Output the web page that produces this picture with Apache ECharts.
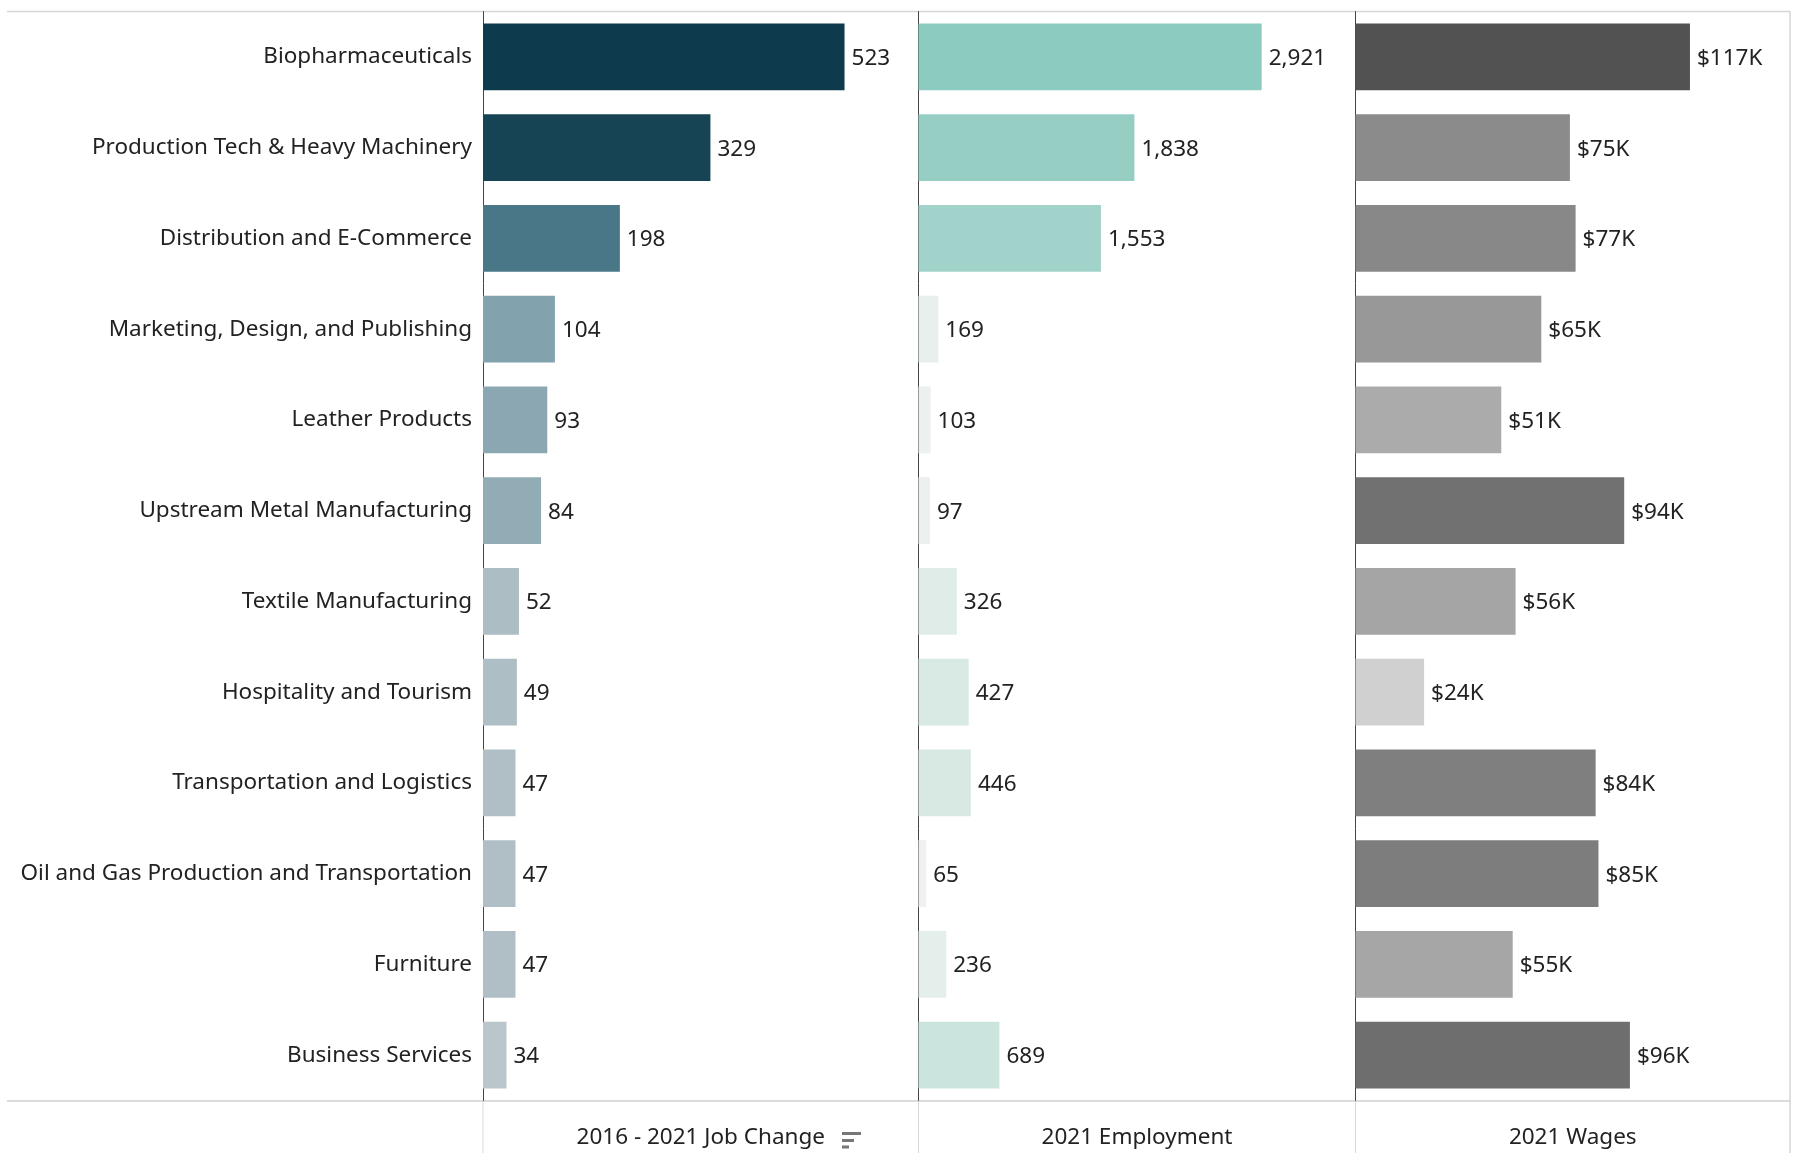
<!DOCTYPE html>
<html>
<head>
<meta charset="utf-8">
<script src="https://cdn.jsdelivr.net/npm/echarts@6/dist/echarts.min.js"></script>
<style>
  html, body { margin: 0; padding: 0; background: #fff; }
  #chart { width: 1812px; height: 1153px; }
</style>
</head>
<body>
<div id="chart"></div>
<script>
const categories = [
  'Biopharmaceuticals',
  'Production Tech & Heavy Machinery',
  'Distribution and E-Commerce',
  'Marketing, Design, and Publishing',
  'Leather Products',
  'Upstream Metal Manufacturing',
  'Textile Manufacturing',
  'Hospitality and Tourism',
  'Transportation and Logistics',
  'Oil and Gas Production and Transportation',
  'Furniture',
  'Business Services'
];
const jobChange = [523, 329, 198, 104, 93, 84, 52, 49, 47, 47, 47, 34];
const employment = [2921, 1838, 1553, 169, 103, 97, 326, 427, 446, 65, 236, 689];
const wages = [117, 75, 77, 65, 51, 94, 56, 24, 84, 85, 55, 96];
const columnTitles = ['2016 - 2021 Job Change', '2021 Employment', '2021 Wages'];

const FONT = 'Noto Sans';
const TEXT = '#222';
const FONT_SIZE = 22.5;

// panel geometry
const TOP = 11.5;
const BOTTOM = 52.5;
const lefts = [483, 918.5, 1355.5];
const widths = [435.5, 437, 434.5];
const maxes = [630, 3720, 152];

const formatters = [
  v => String(v),
  v => v.toLocaleString('en-US'),
  v => '$' + v + 'K'
];
const seriesData = [jobChange, employment, wages];

const chart = echarts.init(document.getElementById('chart'));

const grids = lefts.map((l, i) => ({
  left: l, width: widths[i], top: TOP, bottom: BOTTOM, outerBoundsMode: 'none'
}));

const xAxes = maxes.map((m, i) => ({
  type: 'value', gridIndex: i, min: 0, max: m,
  axisLine: { show: false }, axisTick: { show: false },
  axisLabel: { show: false }, splitLine: { show: false },
  name: columnTitles[i], nameLocation: 'middle', nameGap: 37.5,
  nameTextStyle: { fontFamily: FONT, fontSize: FONT_SIZE, color: TEXT, verticalAlign: 'middle' }
}));

const yAxes = [0, 1, 2].map(i => ({
  type: 'category', gridIndex: i, data: categories, inverse: true,
  axisLine: { show: true, lineStyle: { color: '#444', width: 1 } },
  axisTick: { show: false },
  axisLabel: {
    show: i === 0, margin: 11, fontFamily: FONT, fontSize: FONT_SIZE, color: TEXT,
    padding: [3, 0, 0, 0]
  },
  splitLine: { show: false }
}));

const series = seriesData.map((d, i) => ({
  type: 'bar', xAxisIndex: i, yAxisIndex: i, data: d,
  barWidth: '73.8%',
  label: {
    show: true, position: 'right', distance: 7, offset: [0, 1.5],
    fontFamily: FONT, fontSize: FONT_SIZE, color: TEXT,
    formatter: p => formatters[i](p.value)
  },
  emphasis: { disabled: true }
}));

const visualMaps = [
  { seriesIndex: 0, dimension: 0, min: 34, max: 524, show: false,
    inRange: { color: ['#bac6cc', '#82a2ad', '#558192', '#346375', '#184656', '#113e4e', '#0f3c4e', '#0e3a4d'] } },
  { seriesIndex: 1, dimension: 0, min: 65, max: 2921, show: false,
    inRange: { color: ['#eef1f0', '#d9eae5', '#c7e2dc', '#b5dbd3', '#a4d4cb', '#96cec4', '#92cdc2', '#8fccc1', '#8ccbbf'] } },
  { seriesIndex: 2, dimension: 0, min: 24, max: 117, show: false,
    inRange: { color: ['#d0d0d0', '#525252'] } }
];

const lineStyle = { stroke: '#d6d6d6', lineWidth: 1.5 };
const graphics = [
  { type: 'line', shape: { x1: 7, y1: 11.5, x2: 1790, y2: 11.5 }, style: lineStyle, silent: true },
  { type: 'line', shape: { x1: 1790, y1: 11.5, x2: 1790, y2: 1153 }, style: lineStyle, silent: true },
  { type: 'line', shape: { x1: 7, y1: 1101, x2: 1790, y2: 1101 }, style: { stroke: '#cfcfcf', lineWidth: 1.5 }, silent: true }
];
lefts.forEach(l => {
  graphics.push({ type: 'line', shape: { x1: l, y1: 1101, x2: l, y2: 1153 }, style: { stroke: '#d8d8d8', lineWidth: 1 }, silent: true });
});
// sort indicator next to the first column title
[[19, 1132], [12, 1139], [7, 1145.5]].forEach(([w, y]) => {
  graphics.push({ type: 'rect', shape: { x: 842, y: y, width: w, height: 3 }, style: { fill: '#777' }, silent: true });
});

chart.setOption({
  animation: false,
  backgroundColor: '#fff',
  textStyle: { fontFamily: FONT },
  grid: grids,
  xAxis: xAxes,
  yAxis: yAxes,
  visualMap: visualMaps,
  series: series,
  graphic: graphics
});
</script>
</body>
</html>
